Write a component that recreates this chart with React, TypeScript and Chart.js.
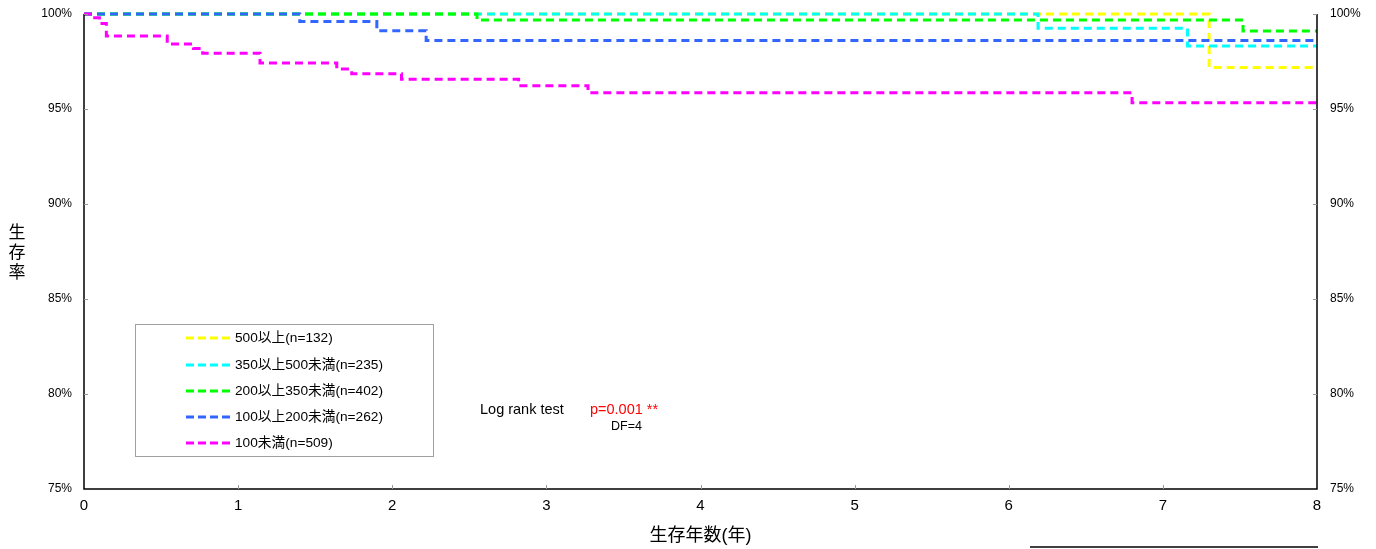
import React, { useEffect, useRef } from "react";
import { Chart, registerables } from "chart.js";

Chart.register(...registerables);

const FONT = '"Liberation Sans", Arial, "Noto Sans CJK JP", sans-serif';

// Kaplan-Meier step data (time in years, survival %)
const seriesLabels = [
  "500以上(n=132)",
  "350以上500未満(n=235)",
  "200以上350未満(n=402)",
  "100以上200未満(n=262)",
  "100未満(n=509)",
];
const seriesColors = ["#ffff00", "#00ffff", "#00ff00", "#3366ff", "#ff00ff"];

const t500 = [0, 7.3, 8];
const s500 = [100, 97.19, 97.19];

const t350 = [0, 6.19, 7.16, 8];
const s350 = [100, 99.25, 98.32, 98.32];

const t200 = [0, 2.55, 7.52, 8];
const s200 = [100, 99.68, 99.1, 99.1];

const t100 = [0, 1.4, 1.9, 2.22, 8];
const s100 = [100, 99.6, 99.12, 98.6, 98.6];

const tU100 = [0, 0.055, 0.1, 0.145, 0.54, 0.71, 0.77, 1.142, 1.64, 1.737, 2.06, 2.82, 3.27, 6.8, 8];
const sU100 = [100, 99.8, 99.5, 98.84, 98.42, 98.19, 97.93, 97.42, 97.1, 96.86, 96.56, 96.23, 95.86, 95.33, 95.33];

const seriesTimes = [t500, t350, t200, t100, tU100];
const seriesValues = [s500, s350, s200, s100, sU100];

const xMin = 0;
const xMax = 8;
const yMin = 75;
const yMax = 100;

const xTitle = "生存年数(年)";
const yTitle = "生存率";
const testLabel = "Log rank test";
const pLabel = "p=0.001 **";
const dfLabel = "DF=4";

export default function App() {
  const ref = useRef<HTMLCanvasElement | null>(null);

  useEffect(() => {
    document.body.style.margin = "0";
    const canvas = ref.current;
    if (!canvas) return;

    const overlay = {
      id: "overlay",
      afterDraw(chart: any) {
        const ctx = chart.ctx;
        const area = chart.chartArea;
        const xs = chart.scales.x;
        const ys = chart.scales.y;
        ctx.save();
        // axis lines
        ctx.strokeStyle = "#000";
        ctx.lineWidth = 1.5;
        ctx.setLineDash([]);
        ctx.beginPath();
        ctx.moveTo(area.left, area.top);
        ctx.lineTo(area.left, area.bottom);
        ctx.lineTo(area.right, area.bottom);
        ctx.lineTo(area.right, area.top);
        ctx.stroke();
        // inward ticks
        ctx.strokeStyle = "#999";
        ctx.lineWidth = 1;
        ctx.beginPath();
        for (let v = yMin + 5; v <= yMax; v += 5) {
          const py = Math.round(ys.getPixelForValue(v)) + 0.5;
          ctx.moveTo(area.left, py);
          ctx.lineTo(area.left + 4, py);
          ctx.moveTo(area.right - 4, py);
          ctx.lineTo(area.right, py);
        }
        for (let v = xMin + 1; v < xMax; v += 1) {
          const px = Math.round(xs.getPixelForValue(v)) + 0.5;
          ctx.moveTo(px, area.bottom);
          ctx.lineTo(px, area.bottom - 4);
        }
        ctx.stroke();

        // axis titles
        ctx.fillStyle = "#000";
        ctx.font = "18px " + FONT;
        ctx.textAlign = "center";
        ctx.textBaseline = "middle";
        ctx.fillText(xTitle, (area.left + area.right) / 2, 536);
        ctx.font = "17px " + FONT;
        const chars = Array.from(yTitle);
        const cy = (area.top + area.bottom) / 2 + 2;
        chars.forEach((c, i) => {
          ctx.fillText(c, 17, cy + (i - (chars.length - 1) / 2) * 20);
        });

        // legend box
        ctx.strokeStyle = "#a0a0a0";
        ctx.lineWidth = 1;
        ctx.strokeRect(135.5, 324.5, 298, 132);
        const rows = [338, 365, 391, 417, 443];
        ctx.font = "13.7px " + FONT;
        ctx.textAlign = "left";
        seriesLabels.forEach((lab, i) => {
          ctx.strokeStyle = seriesColors[i];
          ctx.lineWidth = 3;
          ctx.setLineDash([8, 4]);
          ctx.beginPath();
          ctx.moveTo(186, rows[i]);
          ctx.lineTo(233, rows[i]);
          ctx.stroke();
          ctx.setLineDash([]);
          ctx.fillStyle = "#000";
          ctx.fillText(lab, 235, rows[i] + 0.5);
        });

        // annotation
        ctx.font = "14.5px " + FONT;
        ctx.fillStyle = "#000";
        ctx.fillText(testLabel, 480, 410);
        ctx.fillStyle = "#ff0000";
        ctx.fillText(pLabel, 590, 410);
        ctx.fillStyle = "#000";
        ctx.font = "12.5px " + FONT;
        ctx.fillText(dfLabel, 611, 427);

        // bottom stray line
        ctx.strokeStyle = "#000";
        ctx.lineWidth = 1.5;
        ctx.beginPath();
        ctx.moveTo(1030, 547);
        ctx.lineTo(1318, 547);
        ctx.stroke();
        ctx.restore();
      },
    };

    const drawOrder = [4, 3, 2, 1, 0];
    const chart = new Chart(canvas, {
      type: "line",
      data: {
        datasets: seriesLabels.map((lab, i) => ({
          label: lab,
          data: seriesTimes[i].map((t, j) => ({ x: t, y: seriesValues[i][j] })),
          borderColor: seriesColors[i],
          backgroundColor: seriesColors[i],
          borderWidth: 3,
          borderDash: [8, 5],
          pointRadius: 0,
          stepped: "before" as const,
          fill: false,
          clip: false as any,
          order: drawOrder[i],
          yAxisID: "y",
        })),
      },
      options: {
        animation: false,
        responsive: false,
        maintainAspectRatio: false,
        layout: { padding: { top: 14, left: 0, right: 0, bottom: 0 } },
        plugins: { legend: { display: false }, tooltip: { enabled: false } },
        scales: {
          x: {
            type: "linear",
            position: "bottom",
            min: xMin,
            max: xMax,
            grid: { display: false, drawTicks: false },
            border: { display: false },
            ticks: {
              stepSize: 1,
              padding: 8,
              color: "#000",
              font: { family: FONT, size: 15 },
            },
            afterFit: (s: any) => {
              s.height = 60;
              s.paddingLeft = 0;
              s.paddingRight = 0;
            },
          },
          y: {
            type: "linear",
            position: "left",
            min: yMin,
            max: yMax,
            grid: { display: false, drawTicks: false },
            border: { display: false },
            ticks: {
              stepSize: 5,
              padding: 12,
              color: "#000",
              font: { family: FONT, size: 12 },
              callback: (v: any) => v + "%",
            },
            afterFit: (s: any) => {
              s.width = 84;
              s.paddingTop = 0;
              s.paddingBottom = 0;
            },
          },
          y2: {
            type: "linear",
            position: "right",
            min: yMin,
            max: yMax,
            grid: { display: false, drawTicks: false },
            border: { display: false },
            ticks: {
              stepSize: 5,
              padding: 13,
              color: "#000",
              font: { family: FONT, size: 12 },
              callback: (v: any) => v + "%",
            },
            afterFit: (s: any) => {
              s.width = 59;
              s.paddingTop = 0;
              s.paddingBottom = 0;
            },
          },
        },
      },
      plugins: [overlay],
    });
    return () => chart.destroy();
  }, []);

  return (
    <div style={{ width: 1376, height: 549, background: "#fff" }}>
      <canvas ref={ref} width={1376} height={549} style={{ display: "block" }} />
    </div>
  );
}
